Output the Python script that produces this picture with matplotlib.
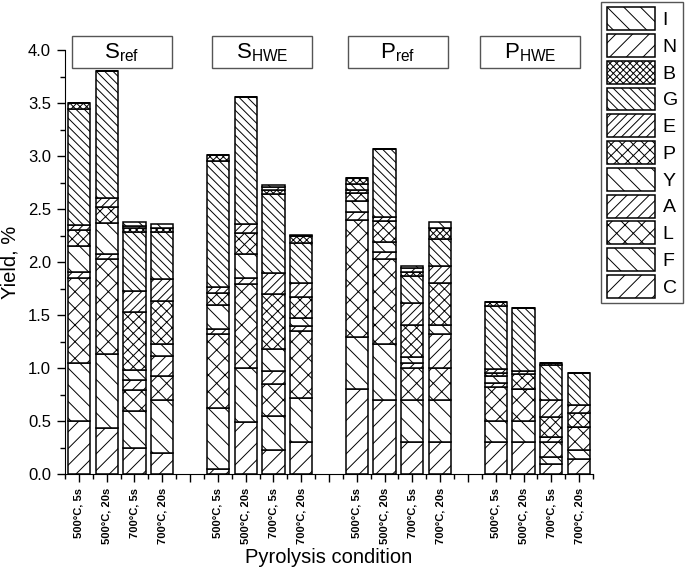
import numpy as np
import matplotlib
matplotlib.use("Agg")
import matplotlib.pyplot as plt
from matplotlib.patches import Rectangle, Patch

plt.rcParams['font.family'] = ['Liberation Sans', 'DejaVu Sans']
plt.rcParams['mathtext.default'] = 'regular'
plt.rcParams['hatch.linewidth'] = 0.7
plt.rcParams['hatch.color'] = 'black'

# bars: Sref, SHWE, Pref, PHWE  x  (500C 5s, 500C 20s, 700C 5s, 700C 20s)
positions = [1, 2, 3, 4, 6, 7, 8, 9, 11, 12, 13, 14, 16, 17, 18, 19]
conditions = ['500°C, 5s', '500°C, 20s', '700°C, 5s', '700°C, 20s']
groups = ['S_{ref}', 'S_{HWE}', 'P_{ref}', 'P_{HWE}']

C = [0.50, 0.43, 0.25, 0.20, 0.05, 0.49, 0.23, 0.30, 0.80, 0.70, 0.30, 0.30, 0.30, 0.30, 0.095, 0.14]
F = [0.55, 0.70, 0.345, 0.50, 0.57, 0.51, 0.32, 0.415, 0.495, 0.53, 0.40, 0.40, 0.20, 0.20, 0.07, 0.09]
L = [0.80, 0.90, 0.195, 0.22, 0.70, 0.79, 0.30, 0.63, 1.105, 0.795, 0.30, 0.30, 0.325, 0.305, 0.14, 0.21]
A = [0.06, 0.05, 0.10, 0.19, 0.045, 0.055, 0.125, 0.047, 0.075, 0.065, 0.045, 0.32, 0.035, 0.0, 0.045, 0.0]
Y = [0.24, 0.29, 0.09, 0.12, 0.23, 0.23, 0.205, 0.08, 0.105, 0.10, 0.06, 0.085, 0.065, 0.0, 0.0, 0.0]
P = [0.15, 0.15, 0.545, 0.405, 0.11, 0.20, 0.52, 0.20, 0.07, 0.20, 0.30, 0.40, 0.03, 0.135, 0.19, 0.14]
E = [0.05, 0.08, 0.205, 0.205, 0.055, 0.08, 0.20, 0.13, 0.03, 0.03, 0.205, 0.155, 0.035, 0.03, 0.16, 0.07]
G = [1.09, 1.20, 0.55, 0.445, 1.195, 1.205, 0.74, 0.375, 0.055, 0.65, 0.26, 0.26, 0.595, 0.60, 0.33, 0.30]
B = [0.06, 0.0, 0.04, 0.035, 0.055, 0.0, 0.04, 0.065, 0.055, 0.0, 0.04, 0.10, 0.04, 0.0, 0.02, 0.0]
N = [0.0, 0.0, 0.02, 0.0, 0.0, 0.0, 0.03, 0.0, 0.0, 0.0, 0.03, 0.0, 0.0, 0.0, 0.0, 0.0]
I = [0.0, 0.0, 0.04, 0.04, 0.0, 0.0, 0.02, 0.015, 0.0, 0.0, 0.025, 0.055, 0.0, 0.0, 0.0, 0.0]

components = [('C', C, '//'), ('F', F, '\\\\'), ('L', L, 'xx'), ('A', A, '///'),
              ('Y', Y, '\\\\'), ('P', P, 'xxx'), ('E', E, '////'), ('G', G, '\\\\\\\\'),
              ('B', B, 'xxxxx'), ('N', N, '//'), ('I', I, '\\\\')]

fig = plt.figure(figsize=(6.85, 5.7), dpi=100)
ax = fig.add_axes([65/685, 1-474/570, 528/685, 424/570])

bottom = np.zeros(len(positions))
handles = []
for name, vals, hatch in components:
    vals = np.array(vals)
    ax.bar(positions, vals, width=0.8, bottom=bottom, color='white',
           edgecolor='black', hatch=hatch, linewidth=1.1)
    bottom += vals
    handles.append(Patch(facecolor='white', edgecolor='black', hatch=hatch,
                         linewidth=1.1, label=name))

ax.set_xlim(0.5, 19.5)
ax.set_ylim(0, 4.0)
ax.spines['top'].set_visible(False)
ax.spines['right'].set_visible(False)
ax.set_yticks(np.arange(0, 4.01, 0.5))
ax.set_yticks(np.arange(0.25, 4.0, 0.5), minor=True)
ax.set_yticklabels(['%.1f' % v for v in np.arange(0, 4.01, 0.5)])
ax.set_xticks(range(1, 20))
ax.set_xticks(np.arange(0.5, 19.6, 1.0), minor=True)
xlabels = []
for p in range(1, 20):
    xlabels.append(conditions[positions.index(p) % 4] if p in positions else '')
ax.set_xticklabels(xlabels, rotation=90, fontsize=8, fontweight='bold', va='top')
ax.tick_params(axis='both', which='major', direction='out', length=6, width=1)
ax.tick_params(axis='both', which='minor', direction='out', length=3.5, width=1)
ax.tick_params(axis='y', labelsize=12, pad=4)
ax.tick_params(axis='x', pad=4)
ax.set_ylabel('Yield, %', fontsize=14.5, labelpad=6)
ax.set_xlabel('Pyrolysis condition', fontsize=14.5, labelpad=3)

# group label boxes
box_left = [72, 212, 348, 480]
for gx, g in zip(box_left, groups):
    fig.patches.append(Rectangle((gx/685, 1-68/570), 100/685, 32/570,
                                 transform=fig.transFigure, facecolor='white',
                                 edgecolor='#555555', linewidth=1.0))
    fig.text((gx+50)/685, 1-53/570, '$' + g + '$', fontsize=16,
             ha='center', va='center')

leg = fig.legend(handles[::-1], [h.get_label() for h in handles[::-1]],
                 loc='upper right', bbox_to_anchor=(683/685, 1-2/570),
                 fontsize=14, handlelength=2.47, handleheight=1.44,
                 labelspacing=0.195, handletextpad=0.4, borderpad=0.27,
                 borderaxespad=0, fancybox=False, framealpha=1)
leg.get_frame().set_edgecolor('#555555')
leg.get_frame().set_linewidth(1.0)

fig.savefig('out.png', dpi=100)
